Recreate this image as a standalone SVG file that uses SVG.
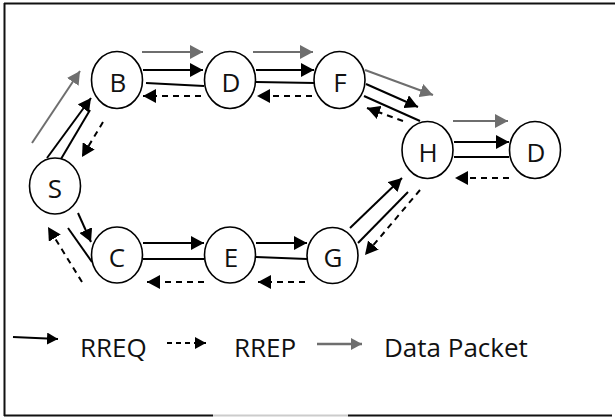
<svg xmlns="http://www.w3.org/2000/svg" width="615" height="417" viewBox="0 0 615 417">
<defs>
<marker id="hb" markerUnits="userSpaceOnUse" markerWidth="14" markerHeight="14" refX="13" refY="7" orient="auto"><path d="M0,0 L13,7 L0,14 Z" fill="#000"/></marker>
<marker id="hg" markerUnits="userSpaceOnUse" markerWidth="14" markerHeight="14" refX="13" refY="7" orient="auto"><path d="M0,0 L13,7 L0,14 Z" fill="#6e6e6e"/></marker>
<marker id="hs" markerUnits="userSpaceOnUse" markerWidth="12" markerHeight="12" refX="11" refY="6" orient="auto"><path d="M0,0 L11,6 L0,12 Z" fill="#000"/></marker>
<marker id="hsg" markerUnits="userSpaceOnUse" markerWidth="12" markerHeight="12" refX="11" refY="6" orient="auto"><path d="M0,0 L11,6 L0,12 Z" fill="#6e6e6e"/></marker>
</defs>
<style>
.node ellipse{fill:#fff;stroke:#000;stroke-width:1.6}
.node text,.lbl{font-family:"Open Sans","Liberation Sans",sans-serif;font-size:26px;fill:#111}
.node text{text-anchor:middle}
.req{stroke:#000;stroke-width:2;fill:none;marker-end:url(#hb)}
.ln{stroke:#000;stroke-width:2;fill:none}
.rep{stroke:#000;stroke-width:2;fill:none;stroke-dasharray:6 5;marker-end:url(#hb)}
.dat{stroke:#6e6e6e;stroke-width:2;fill:none;marker-end:url(#hg)}
</style>
<rect width="615" height="417" fill="#fff"/>
<g id="frame" fill="none" stroke-width="2">
<line x1="4" y1="3.5" x2="615" y2="3.5" stroke="#111"/>
<line x1="4.5" y1="3" x2="4.5" y2="416" stroke="#111"/>
<line x1="4" y1="415.5" x2="213" y2="415.5" stroke="#111"/>
<line x1="213" y1="415.5" x2="348" y2="415.5" stroke="#ccc"/>
<line x1="348" y1="415.5" x2="612" y2="415.5" stroke="#111"/>
</g>
<g id="connectors">
<line class="dat" x1="142" y1="52" x2="203" y2="52"/>
<line class="req" x1="143" y1="70" x2="203" y2="70"/>
<line class="ln" x1="146" y1="83" x2="204" y2="86"/>
<line class="rep" x1="201" y1="96" x2="143" y2="96"/>
<line class="dat" x1="253" y1="52" x2="313" y2="52"/>
<line class="req" x1="256" y1="70" x2="314" y2="70"/>
<line class="ln" x1="256" y1="82" x2="315" y2="83"/>
<line class="rep" x1="312" y1="96" x2="257" y2="96"/>
<line class="dat" x1="365" y1="70" x2="433" y2="95"/>
<line class="req" x1="366" y1="84" x2="418" y2="107"/>
<line class="ln" x1="364" y1="96" x2="420" y2="121"/>
<line class="rep" x1="403" y1="121" x2="367" y2="108"/>
<line class="dat" x1="453" y1="121" x2="508" y2="121"/>
<line class="req" x1="454" y1="142" x2="509" y2="142"/>
<line class="ln" x1="454" y1="157" x2="509" y2="157"/>
<line class="rep" x1="509" y1="178" x2="455" y2="178"/>
<line class="dat" x1="32" y1="143" x2="80" y2="71"/>
<line class="req" x1="47" y1="158" x2="91" y2="98"/>
<line class="ln" x1="61" y1="159" x2="90" y2="110"/>
<line class="rep" x1="103" y1="122" x2="82" y2="157"/>
<line class="req" x1="78" y1="213" x2="91" y2="242"/>
<line class="ln" x1="68" y1="228" x2="92" y2="262"/>
<line class="rep" x1="82" y1="282" x2="48" y2="227"/>
<line class="req" x1="143" y1="243" x2="204" y2="243"/>
<line class="ln" x1="143" y1="259" x2="204" y2="259"/>
<line class="rep" x1="204" y1="282" x2="147" y2="282"/>
<line class="req" x1="256" y1="243" x2="307" y2="243"/>
<line class="ln" x1="256" y1="257" x2="307" y2="259"/>
<line class="rep" x1="305" y1="282" x2="258" y2="282"/>
<line class="req" x1="350" y1="228" x2="402" y2="178"/>
<line class="ln" x1="358" y1="243" x2="408" y2="192"/>
<line class="rep" x1="420" y1="190" x2="365" y2="255"/>
</g>
<g id="nodeB" class="node"><ellipse cx="117" cy="80" rx="25.5" ry="28.5"/><text x="118" y="92">B</text></g>
<g id="nodeD1" class="node"><ellipse cx="230" cy="80" rx="25.5" ry="28.5"/><text x="231" y="92">D</text></g>
<g id="nodeF" class="node"><ellipse cx="339.5" cy="80" rx="25.5" ry="28.5"/><text x="340" y="92">F</text></g>
<g id="nodeH" class="node"><ellipse cx="427.5" cy="150" rx="25.5" ry="28.5"/><text x="428" y="162">H</text></g>
<g id="nodeD2" class="node"><ellipse cx="535" cy="150" rx="25.5" ry="28.5"/><text x="536" y="162">D</text></g>
<g id="nodeS" class="node"><ellipse cx="55" cy="186" rx="25.5" ry="28"/><text x="55" y="198">S</text></g>
<g id="nodeC" class="node"><ellipse cx="117" cy="255" rx="25.5" ry="28"/><text x="117" y="267">C</text></g>
<g id="nodeE" class="node"><ellipse cx="230" cy="255" rx="25.5" ry="28"/><text x="231" y="267">E</text></g>
<g id="nodeG" class="node"><ellipse cx="332.5" cy="255.5" rx="25.5" ry="28"/><text x="333" y="267">G</text></g>
<g id="legend">
<line x1="13" y1="337" x2="58" y2="339" stroke="#000" stroke-width="2" marker-end="url(#hs)"/>
<text class="lbl" x="80" y="357">RREQ</text>
<line x1="167" y1="343" x2="206" y2="343" stroke="#000" stroke-width="2" stroke-dasharray="5 4" marker-end="url(#hs)"/>
<text class="lbl" x="234" y="357">RREP</text>
<line x1="317" y1="344" x2="362" y2="344" stroke="#6e6e6e" stroke-width="2.5" marker-end="url(#hsg)"/>
<text class="lbl" x="384" y="357">Data Packet</text>
</g>
</svg>
